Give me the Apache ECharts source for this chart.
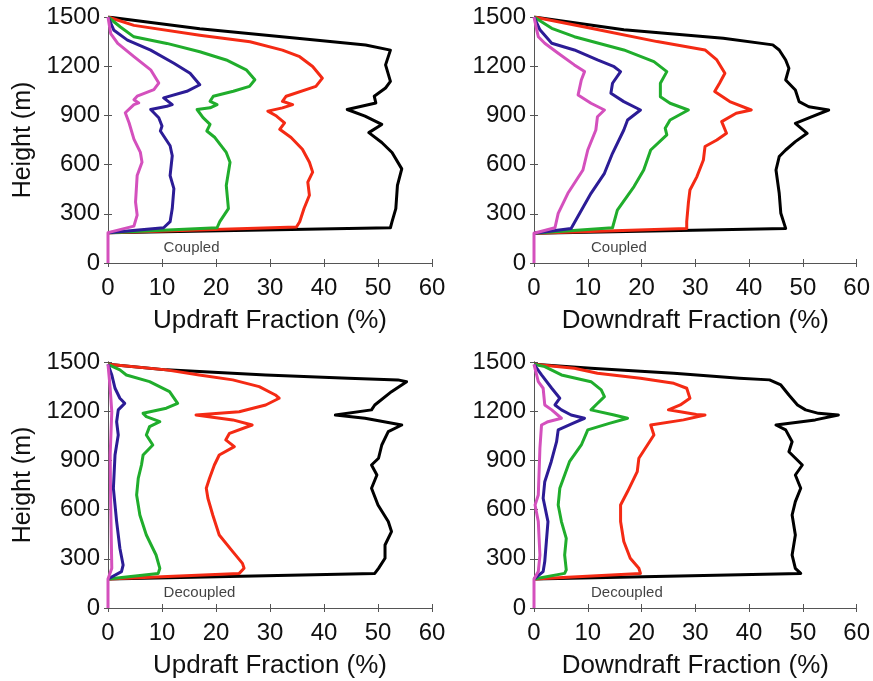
<!DOCTYPE html>
<html><head><meta charset="utf-8">
<script src="https://cdn.jsdelivr.net/npm/echarts@6/dist/echarts.min.js"></script>
<style>html,body{margin:0;padding:0;background:#fff}#c{width:873px;height:681px}</style>
</head><body><div id="c"></div>
<script>
// ---- Data: [fraction (%), height (m)] ----
const yTicks = [0, 300, 600, 900, 1200, 1500];
const xTicks = [0, 10, 20, 30, 40, 50, 60];
const panelLabels = ['Coupled', 'Coupled', 'Decoupled', 'Decoupled'];
const xTitles = ['Updraft Fraction (%)', 'Downdraft Fraction (%)', 'Updraft Fraction (%)', 'Downdraft Fraction (%)'];
const lineColors = ['#000000', '#f42a14', '#20ad2c', '#2c1c96', '#d450bd'];

// Panel 1: Coupled updraft
const upC_black = [[0,1500],[17.0,1429],[35.5,1369],[47.7,1329],[52.3,1298],[51.4,1208],[52.3,1107],[51.4,1067],[49.3,1017],[49.6,976],[44.3,936],[47.6,896],[50.7,845],[48.3,795],[50.7,735],[52.6,674],[54.4,574],[53.6,473],[53.3,332],[52.6,252],[52.3,215],[0,185]];
const upC_red = [[0,1500],[4.8,1449],[17.0,1389],[26.3,1349],[32.3,1298],[35.5,1258],[37.9,1198],[39.7,1127],[38.5,1077],[33.0,1017],[32.3,986],[34.2,966],[32.3,946],[29.6,926],[31.2,896],[32.7,855],[31.8,815],[33.9,765],[36.0,694],[37.3,614],[37.9,554],[37.0,493],[37.3,413],[36.3,332],[35.5,252],[34.9,220],[0,185]];
const upC_green = [[0,1500],[2.3,1439],[4.8,1379],[10.9,1339],[17.0,1288],[21.9,1238],[25.6,1178],[27.2,1117],[26.2,1077],[23.2,1047],[19.5,1017],[18.9,986],[20.2,966],[18.9,946],[16.5,936],[17.6,886],[18.9,845],[18.3,805],[19.8,765],[21.9,674],[22.6,614],[21.9,473],[22.3,332],[20.7,252],[20.2,215],[0,185]];
const upC_blue = [[0,1500],[1.1,1419],[3.6,1359],[7.9,1298],[12.2,1218],[15.2,1157],[17.0,1087],[14.6,1047],[10.3,1007],[11.9,966],[10.9,956],[7.9,936],[9.4,886],[10.0,835],[9.7,805],[11.5,715],[11.9,654],[11.5,533],[12.2,453],[11.9,332],[11.5,252],[10.3,215],[0,185]];
const upC_magenta = [[0,1500],[0.5,1399],[1.8,1339],[4.8,1258],[7.9,1178],[9.4,1097],[8.5,1057],[5.4,1017],[4.8,996],[5.7,976],[4.8,966],[3.2,916],[3.9,855],[4.8,755],[6.0,674],[6.3,614],[5.4,533],[5.1,372],[5.4,292],[4.8,225],[0,185],[0,0]];

// Panel 2: Coupled downdraft
const dnC_black = [[0,1500],[16.7,1422],[35.2,1370],[44.4,1330],[45.6,1299],[46.8,1238],[47.4,1187],[46.8,1116],[48.6,1055],[49.3,984],[51.1,953],[54.8,933],[51.7,892],[48.6,852],[50.8,791],[48.6,740],[46.8,689],[45.6,649],[45.0,567],[45.6,425],[45.9,303],[46.8,211],[0,181]];
const dnC_red = [[0,1500],[10.6,1431],[22.9,1350],[31.8,1299],[34.0,1238],[35.5,1157],[34.5,1096],[33.6,1045],[36.4,984],[40.4,933],[37.6,913],[34.9,862],[35.8,791],[34.0,750],[31.8,710],[31.5,628],[30.3,527],[29.0,445],[28.7,364],[28.4,252],[28.4,211],[0,181]];
const dnC_green = [[0,1500],[3.3,1431],[7.5,1380],[16.7,1299],[22.3,1228],[24.7,1167],[23.5,1096],[23.5,1014],[25.3,974],[28.7,933],[25.3,872],[24.4,821],[24.7,781],[21.7,689],[20.4,567],[18.6,466],[15.5,323],[14.6,215],[0,181]];
const dnC_blue = [[0,1500],[1.1,1422],[3.3,1340],[7.5,1299],[11.8,1238],[14.9,1197],[16.1,1167],[14.6,1096],[14.3,1035],[16.7,984],[19.8,933],[17.4,872],[16.7,811],[14.6,669],[13.1,547],[10.6,425],[8.5,303],[6.9,211],[0,181]];
const dnC_magenta = [[0,1500],[0.5,1422],[0.8,1380],[2.0,1340],[4.5,1279],[7.5,1208],[9.4,1167],[8.8,1116],[8.2,1025],[10.6,974],[13.1,933],[11.8,892],[11.5,811],[10.0,689],[9.1,567],[6.3,425],[4.5,303],[3.9,215],[0,181],[0,0]];

// Panel 3: Decoupled updraft
const upD_black = [[0,1486],[10.8,1452],[29.2,1421],[44.5,1401],[53.7,1391],[55.3,1380],[52.5,1319],[49.4,1238],[48.8,1208],[42.1,1177],[47.6,1157],[54.4,1116],[51.9,1075],[50.7,994],[50.1,913],[48.8,872],[49.8,811],[48.8,730],[50.0,628],[51.9,527],[52.5,466],[51.3,384],[51.3,303],[50.1,242],[49.4,211],[0,177]];
const upD_red = [[0,1486],[10.8,1452],[16.9,1421],[23.1,1391],[28.0,1350],[31.0,1299],[31.7,1279],[29.2,1238],[24.3,1197],[16.3,1177],[23.1,1147],[26.7,1116],[22.5,1065],[21.8,1025],[23.4,984],[20.6,933],[19.7,872],[18.8,791],[18.2,730],[18.5,669],[19.4,567],[20.6,445],[23.1,344],[24.9,272],[25.2,242],[24.3,211],[0,177]];
const upD_green = [[0,1486],[2.2,1452],[3.4,1421],[7.7,1380],[11.4,1319],[12.9,1248],[10.8,1218],[6.5,1187],[7.1,1167],[9.6,1136],[7.7,1106],[7.1,1055],[8.3,994],[6.5,933],[6.2,872],[5.6,791],[5.3,689],[5.9,567],[7.1,445],[8.9,323],[9.6,242],[9.3,211],[0,177]];
const upD_blue = [[0,1486],[0.7,1421],[1.3,1340],[2.2,1279],[3.1,1248],[1.9,1208],[1.6,1136],[1.9,1055],[1.3,933],[1.0,730],[1.6,527],[2.2,364],[2.8,262],[2.5,222],[0,177]];
const upD_magenta = [[0,1486],[0.4,1340],[0.7,1197],[0.4,933],[0.5,628],[0.7,242],[0,177],[0,0]];

// Panel 4: Decoupled downdraft
const dnD_black = [[0,1486],[10.6,1462],[26.0,1431],[38.2,1401],[43.8,1391],[45.9,1360],[47.4,1299],[49.0,1238],[50.5,1208],[52.9,1187],[56.6,1177],[52.3,1147],[45.0,1116],[46.8,1086],[48.0,1014],[47.4,953],[49.9,872],[48.6,811],[49.6,730],[48.6,649],[48.0,567],[48.6,445],[48.0,323],[48.6,242],[49.6,211],[0,177]];
const dnD_red = [[0,1486],[7.5,1462],[11.8,1431],[19.8,1401],[26.0,1370],[28.4,1340],[29.0,1279],[27.2,1238],[25.0,1208],[27.2,1197],[30.2,1180],[31.8,1177],[27.8,1147],[21.7,1116],[22.3,1055],[19.5,913],[19.2,831],[17.4,710],[16.1,628],[16.1,527],[16.7,405],[17.9,303],[19.5,242],[19.8,211],[0,177]];
const dnD_green = [[0,1486],[2.0,1472],[5.1,1421],[10.6,1380],[12.5,1330],[13.1,1289],[11.5,1238],[10.6,1208],[14.9,1177],[17.4,1157],[14.0,1126],[10.0,1086],[8.8,994],[6.6,892],[5.7,811],[4.8,730],[4.5,628],[5.1,527],[6.0,425],[5.7,323],[6.0,232],[5.7,211],[0,177]];
const dnD_blue = [[0,1486],[1.4,1421],[3.3,1340],[4.8,1279],[3.9,1238],[5.1,1208],[6.9,1177],[9.4,1157],[7.2,1126],[4.5,1086],[4.2,1014],[3.2,892],[2.0,770],[1.7,669],[2.6,527],[2.3,405],[2.0,283],[1.7,222],[0,177]];
const dnD_magenta = [[0,1486],[0.8,1380],[1.7,1340],[2.0,1238],[3.3,1208],[5.1,1157],[2.6,1136],[1.4,1116],[1.1,974],[0.8,689],[0.2,628],[0.8,527],[1.1,323],[0.8,222],[0,177],[0,0]];

const panels = [
  [upC_black, upC_red, upC_green, upC_blue, upC_magenta],
  [dnC_black, dnC_red, dnC_green, dnC_blue, dnC_magenta],
  [upD_black, upD_red, upD_green, upD_blue, upD_magenta],
  [dnD_black, dnD_red, dnD_green, dnD_blue, dnD_magenta]
];
const labelPos = [[10.3, 95], [10.6, 95], [10.3, 95], [10.6, 95]];

// ---- Build chart ----
const FONT = 'Liberation Sans, Arial, sans-serif';
const TXT = '#111111';
const AX = '#555555';
const gridPos = [
  {left: 108, top: 17}, {left: 534, top: 17},
  {left: 108, top: 362}, {left: 534, top: 362}
];
const grid = gridPos.map(g => ({left: g.left, top: g.top, width: 324, height: 246, containLabel: false}));
const xAxis = [], yAxis = [], series = [];
panels.forEach((lines, i) => {
  const lineStyleAx = {show: true, lineStyle: {color: AX, width: 1}};
  const tick = {show: true, inside: true, length: 4, lineStyle: {color: AX}};
  xAxis.push({
    type: 'value', gridIndex: i, min: xTicks[0], max: xTicks[xTicks.length - 1], interval: 10,
    position: 'bottom', axisLine: lineStyleAx, axisTick: tick,
    axisLabel: {color: TXT, fontSize: 24, fontFamily: FONT, margin: 13, formatter: v => String(v)},
    splitLine: {show: false},
    name: xTitles[i], nameLocation: 'middle', nameGap: 45,
    nameTextStyle: {color: TXT, fontSize: 26, fontFamily: FONT}
  });
  xAxis.push({
    type: 'value', gridIndex: i, min: 0, max: 60, interval: 10, position: 'top',
    axisLine: lineStyleAx, axisTick: tick, axisLabel: {show: false}, splitLine: {show: false}
  });
  yAxis.push({
    type: 'value', gridIndex: i, min: yTicks[0], max: yTicks[yTicks.length - 1], interval: 300,
    position: 'left', axisLine: lineStyleAx, axisTick: tick,
    axisLabel: {color: TXT, fontSize: 24, fontFamily: FONT, margin: 8, formatter: v => String(v)},
    splitLine: {show: false},
    name: (i % 2 === 0) ? 'Height (m)' : '', nameLocation: 'middle', nameGap: 72,
    nameTextStyle: {color: TXT, fontSize: 25, fontFamily: FONT}
  });
  yAxis.push({
    type: 'value', gridIndex: i, min: 0, max: 1500, interval: 300, position: 'right',
    axisLine: lineStyleAx, axisTick: tick, axisLabel: {show: false}, splitLine: {show: false}
  });
  lines.forEach((d, k) => {
    series.push({
      type: 'line', xAxisIndex: 2 * i, yAxisIndex: 2 * i, data: d,
      showSymbol: false, symbol: 'none', smooth: false, animation: false,
      lineStyle: {color: lineColors[k], width: 3, join: 'round'},
      z: 2 + k
    });
  });
  series.push({
    type: 'scatter', xAxisIndex: 2 * i, yAxisIndex: 2 * i, data: [labelPos[i]],
    symbolSize: 0, animation: false, silent: true,
    label: {show: true, position: 'right', distance: 0, formatter: panelLabels[i],
      color: TXT, fontSize: 15, fontFamily: FONT}
  });
});

const chart = echarts.init(document.getElementById('c'), null, {renderer: 'canvas'});
chart.setOption({backgroundColor: '#ffffff', animation: false, grid, xAxis, yAxis, series});
</script></body></html>
